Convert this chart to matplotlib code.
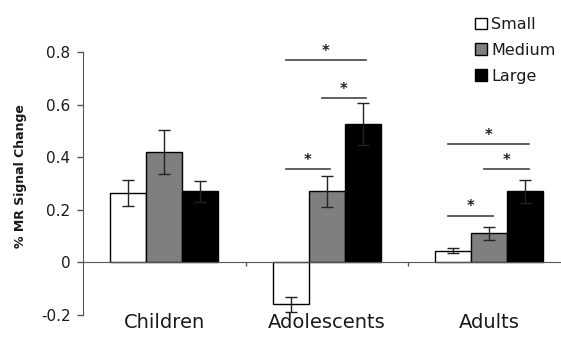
import numpy as np
from matplotlib import pyplot as plt
from matplotlib.transforms import offset_copy

groups = ["Children", "Adolescents", "Adults"]
sizes = ["Small", "Medium", "Large"]

small = [0.265, -0.16, 0.045]
small_err = [0.05, 0.03, 0.01]
medium = [0.42, 0.27, 0.11]
medium_err = [0.085, 0.06, 0.025]
large = [0.27, 0.527, 0.27]
large_err = [0.04, 0.08, 0.045]

# significance brackets: (group index, first bar, last bar, bracket height)
brackets = [
    (1, 0, 2, 0.77),
    (1, 1, 2, 0.626),
    (1, 0, 1, 0.356),
    (2, 0, 2, 0.45),
    (2, 1, 2, 0.356),
    (2, 0, 1, 0.178),
]

plt.rcParams["font.family"] = ["DejaVu Sans"]

px = 1 / 100
fig = plt.figure(figsize=(561 * px, 342 * px), dpi=100)
ax = fig.add_axes([83 / 561, 27 / 342, 1 - 83 / 561, 263 / 342])

width = 0.222
centers = np.arange(len(groups)) + 0.5
series = [(small, small_err, "white"), (medium, medium_err, "#7f7f7f"), (large, large_err, "black")]
handles = []
for i, (vals, errs, color) in enumerate(series):
    xs = centers + (i - 1) * width
    b = ax.bar(xs, vals, width, color=color, edgecolor="black", linewidth=1.0,
               label=sizes[i], zorder=2)
    ax.errorbar(xs, vals, yerr=errs, fmt="none", ecolor="#222222", elinewidth=1.0,
                capsize=4.5, capthick=1.0, zorder=3)
    handles.append(b)

star_tr = offset_copy(ax.transData, fig=fig, x=0, y=3, units="points")
for g, i, j, h in brackets:
    x0 = centers[g] + (i - 1) * width - 0.03
    x1 = centers[g] + (j - 1) * width + 0.02
    ax.plot([x0, x1], [h, h], color="#444444", lw=1.2, clip_on=False, zorder=4)
    ax.text((x0 + x1) / 2, h, "*", ha="center", va="baseline", fontsize=10.5,
            fontweight="bold", color="#222222", transform=star_tr, clip_on=False)

ax.set_xlim(0, (561 - 83) / 162.5)
ax.set_ylim(-0.2, 0.8)
ax.set_yticks([-0.2, 0, 0.2, 0.4, 0.6, 0.8])
ax.set_yticklabels(["-0.2", "0", "0.2", "0.4", "0.6", "0.8"])
ax.set_xticks([1, 2])
ax.set_xticklabels([])

for s in ["top", "right"]:
    ax.spines[s].set_visible(False)
ax.spines["bottom"].set_position(("data", 0))
ax.spines["left"].set_color("#555555")
ax.spines["bottom"].set_color("#555555")
ax.tick_params(axis="y", direction="out", length=4, width=1, color="#555555",
               pad=5, labelsize=11, labelcolor="#1a1a1a")
ax.tick_params(axis="x", direction="out", length=3, width=1, color="#555555")

for c, name in zip(centers, groups):
    ax.text(c, -0.23, name, ha="center", va="center", fontsize=14,
            color="#1a1a1a", clip_on=False)

fig.text(21 / 561, 1 - 176 / 342, "% MR Signal Change", rotation=90,
         ha="center", va="center", fontsize=9, fontweight="bold", color="#1a1a1a")

ax.legend(handles=handles, loc="upper left", bbox_to_anchor=(475 / 561, 1 - 17 / 342),
          bbox_transform=fig.transFigure, frameon=False, fontsize=11.5,
          handlelength=0.75, handleheight=0.75, handletextpad=0.25,
          labelspacing=0.68, borderpad=0, borderaxespad=0,
          labelcolor="#1a1a1a")

fig.savefig("out.png", dpi=100)
